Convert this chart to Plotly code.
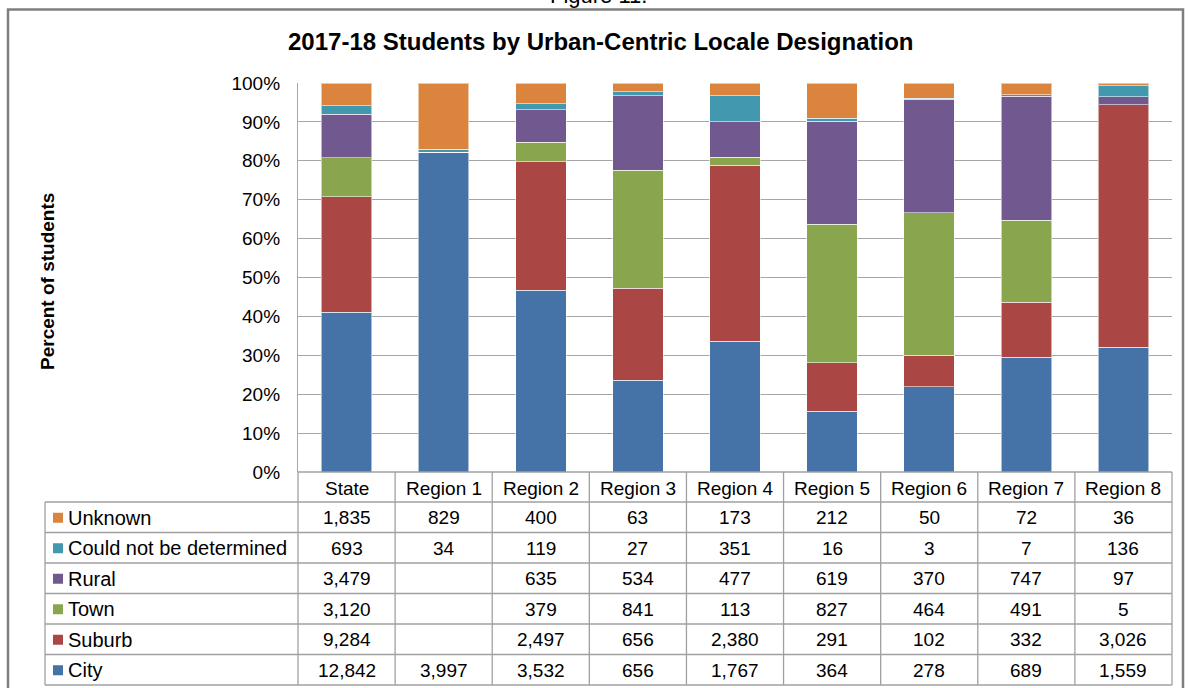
import plotly.graph_objects as go

categories = ["State", "Region 1", "Region 2", "Region 3", "Region 4",
              "Region 5", "Region 6", "Region 7", "Region 8"]
# series listed bottom (City) to top (Unknown)
series_names = ["City", "Suburb", "Town", "Rural", "Could not be determined", "Unknown"]
city = [12842, 3997, 3532, 656, 1767, 364, 278, 689, 1559]
suburb = [9284, None, 2497, 656, 2380, 291, 102, 332, 3026]
town = [3120, None, 379, 841, 113, 827, 464, 491, 5]
rural = [3479, None, 635, 534, 477, 619, 370, 747, 97]
could_not = [693, 34, 119, 27, 351, 16, 3, 7, 136]
unknown = [1835, 829, 400, 63, 173, 212, 50, 72, 36]
tick_vals = [0, 10, 20, 30, 40, 50, 60, 70, 80, 90, 100]
tick_text = ["0%", "10%", "20%", "30%", "40%", "50%", "60%", "70%", "80%", "90%", "100%"]

series_values = [city, suburb, town, rural, could_not, unknown]
colors = ["#4572A7", "#AA4643", "#89A54E", "#71588F", "#4198AF", "#DB843D"]

FONT = "Liberation Sans, Arial, sans-serif"
W, H = 1189, 688
L, R, T, B = 298, 1172, 83, 472
pw, ph = R - L, B - T


def px_x(p):
    return (p - L) / pw


def px_y(p):
    return (B - p) / ph


fig = go.Figure()
for name, vals, col in zip(series_names, series_values, colors):
    fig.add_trace(go.Bar(
        x=list(range(len(categories))), y=[v if v is not None else 0 for v in vals],
        name=name, marker=dict(color=col, line=dict(color="rgba(255,255,255,0.55)", width=1)),
        width=0.52, showlegend=False, hoverinfo="skip"))

fig.update_layout(
    barmode="stack", barnorm="percent",
    width=W, height=H,
    margin=dict(l=L, r=W - R, t=T, b=H - B),
    paper_bgcolor="white", plot_bgcolor="white",
    font=dict(family=FONT, size=19, color="black"),
    xaxis=dict(range=[-0.5, len(categories) - 0.5], showticklabels=False,
               showgrid=False, zeroline=False, showline=False, ticks=""),
    yaxis=dict(range=[0, 100], tickvals=tick_vals, ticktext=tick_text,
               showgrid=True, gridcolor="#A6A6A6", gridwidth=1.3,
               zeroline=False, showline=True, linecolor="#A6A6A6", linewidth=1.3,
               ticks="", tickfont=dict(size=19), ticklabelstandoff=13),
)

shapes = []
annotations = []

# outer frame
shapes.append(dict(type="rect", xref="paper", yref="paper",
                   x0=px_x(8), x1=px_x(1183), y0=px_y(700), y1=px_y(9.5),
                   line=dict(color="#7F7F7F", width=2.5), fillcolor="rgba(0,0,0,0)", layer="below"))

# Figure caption (mostly cut off at top, as in the source)
annotations.append(dict(text="Figure 11.", xref="paper", yref="paper",
                        x=px_x(598), y=px_y(10), xanchor="center", yanchor="bottom",
                        showarrow=False, font=dict(size=22, color="black")))

# title
annotations.append(dict(text="<b>2017-18 Students by Urban-Centric Locale Designation</b>",
                        xref="paper", yref="paper", x=px_x(601), y=px_y(42),
                        xanchor="center", yanchor="middle", showarrow=False,
                        font=dict(size=24, color="black")))

# y-axis title
annotations.append(dict(text="<b>Percent of students</b>", xref="paper", yref="paper",
                        x=px_x(47), y=px_y(281), xanchor="center", yanchor="middle",
                        textangle=-90, showarrow=False, font=dict(size=19, color="black")))

# data table
line_col = "#A0A0A0"
col_w = pw / len(categories)
row_h = 30.5
header_top = B
header_bot = B + 30
table_left = 45
n_rows = len(series_names)
table_bot = header_bot + n_rows * row_h

shapes.append(dict(type="line", xref="paper", yref="paper",
                   x0=px_x(L), x1=px_x(R), y0=px_y(header_top), y1=px_y(header_top),
                   line=dict(color=line_col, width=1.3)))
for i in range(n_rows + 1):
    yy = header_bot + i * row_h
    shapes.append(dict(type="line", xref="paper", yref="paper",
                       x0=px_x(table_left), x1=px_x(R), y0=px_y(yy), y1=px_y(yy),
                       line=dict(color=line_col, width=1.3)))
shapes.append(dict(type="line", xref="paper", yref="paper",
                   x0=px_x(table_left), x1=px_x(table_left), y0=px_y(header_bot), y1=px_y(table_bot),
                   line=dict(color=line_col, width=1.3)))
for j in range(len(categories) + 1):
    xx = L + j * col_w
    shapes.append(dict(type="line", xref="paper", yref="paper",
                       x0=px_x(xx), x1=px_x(xx), y0=px_y(header_top), y1=px_y(table_bot),
                       line=dict(color=line_col, width=1.3)))

for j, c in enumerate(categories):
    annotations.append(dict(text=c, xref="paper", yref="paper",
                            x=(j + 0.5) / len(categories), y=px_y((header_top + header_bot) / 2 + 1),
                            xanchor="center", yanchor="middle", showarrow=False,
                            font=dict(size=19, color="black")))

rows_top_down = list(zip(series_names, series_values, colors))[::-1]
for i, (name, vals, col) in enumerate(rows_top_down):
    yc = header_bot + (i + 0.5) * row_h + 0.5
    shapes.append(dict(type="rect", xref="paper", yref="paper",
                       x0=px_x(53), x1=px_x(63), y0=px_y(yc - 5), y1=px_y(yc + 5),
                       line=dict(width=0), fillcolor=col))
    annotations.append(dict(text=name, xref="paper", yref="paper",
                            x=px_x(66), y=px_y(yc), xanchor="left", yanchor="middle",
                            showarrow=False, font=dict(size=20, color="black")))
    for j, v in enumerate(vals):
        if v is None:
            continue
        annotations.append(dict(text=f"{v:,}", xref="paper", yref="paper",
                                x=(j + 0.5) / len(categories), y=px_y(yc),
                                xanchor="center", yanchor="middle", showarrow=False,
                                font=dict(size=19, color="black")))

fig.update_layout(shapes=shapes, annotations=annotations)
fig.write_html("out.html", config={"displayModeBar": False},
               post_script="document.body.style.margin='0px';document.body.style.overflow='hidden';")
